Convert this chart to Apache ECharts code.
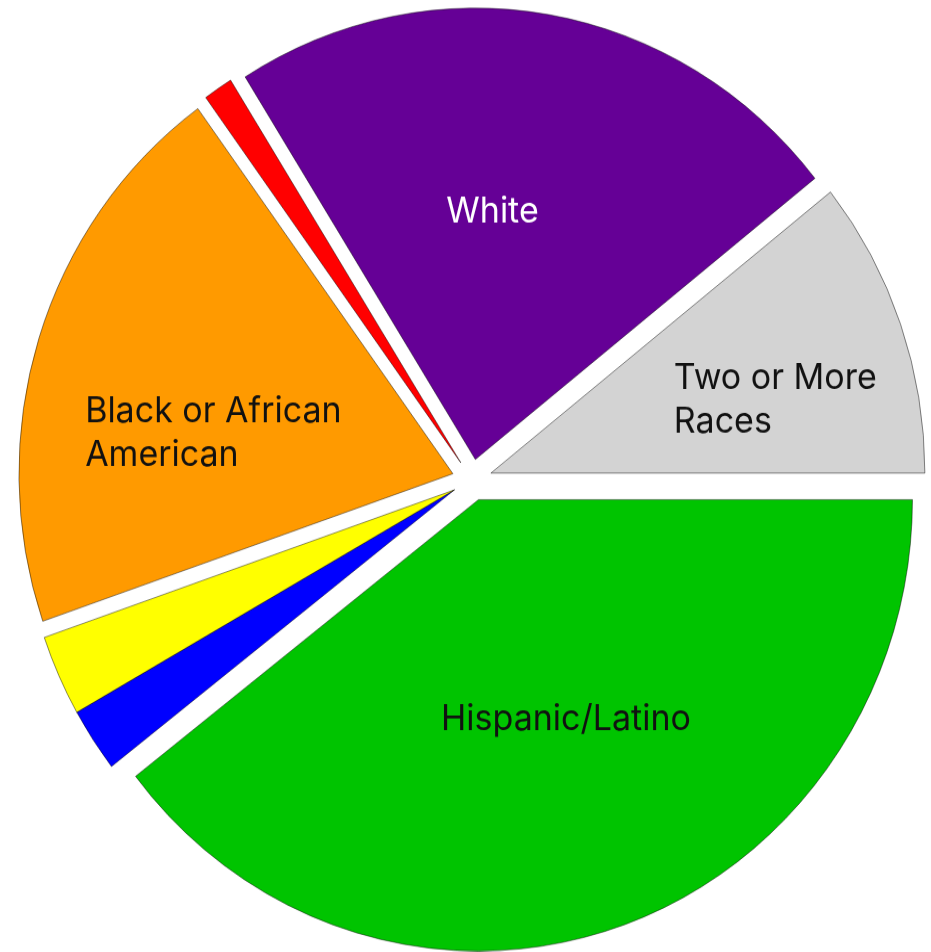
<!DOCTYPE html>
<html>
<head>
<meta charset="utf-8">
<script src="https://cdn.jsdelivr.net/npm/echarts@6/dist/echarts.min.js"></script>
<style>
  html, body { margin: 0; padding: 0; background: #ffffff; width: 931px; height: 952px; }
  /* the pie is drawn a little taller than wide */
  #chart { width: 931px; height: 915px; transform: scaleY(1.04); transform-origin: 0 0; }
</style>
</head>
<body>
<div id="chart"></div>
<script>
// Student population by race / ethnicity (share of total, %)
const categories = [
  'Hispanic/Latino',
  'Asian',
  'American Indian or Alaska Native',
  'Black or African American',
  'Native Hawaiian or Other Pacific Islander',
  'White',
  'Two or More Races'
];
const shares = [39.5, 2.3, 2.9, 20.3, 1.1, 23.2, 10.7];
const sliceColors = ['#00c400', '#0000ff', '#ffff00', '#ff9a00', '#ff0000', '#650096', '#d3d3d3'];

// Text written on the larger slices, one entry per line
const sliceText = {
  'Hispanic/Latino': ['Hispanic/Latino'],
  'Black or African American': ['Black or African', 'American'],
  'White': ['White'],
  'Two or More Races': ['Two or More', 'Races']
};
const textColor = { 'White': '#ffffff' };
// text block placement: [x, y of block centre, box width, anchor ('center' or 'left')]
const textPlacement = {
  'Hispanic/Latino': [565, 689, 260, 'center'],
  'Black or African American': [88, 417.5, 270, 'left'],
  'White': [492, 206.5, 110, 'center'],
  'Two or More Races': [671, 386, 215, 'left']
};

const FONT = 'Inter, "Open Sans", sans-serif';
const FONT_SIZE = 34;
const LINE_HEIGHT = 42;

const CENTER = [472, 461.5];
const RADIUS = 434;
const EXPLODE = 20;
// these two slices are pulled out together as a single wedge
const pairedSlices = [1, 2];

const total = shares.reduce((a, b) => a + b, 0);
const angleBefore = i => shares.slice(0, i).reduce((a, b) => a + b, 0) / total * 360;
const toRad = d => d * Math.PI / 180;
const pairMid = toRad((angleBefore(pairedSlices[0]) + angleBefore(pairedSlices[pairedSlices.length - 1] + 1)) / 2);
const pairCenter = [CENTER[0] + EXPLODE * Math.cos(pairMid), CENTER[1] + EXPLODE * Math.sin(pairMid)];

// 'inside' labels sit halfway out along the slice's middle; padding moves the text block
function labelFor(i, on) {
  const name = categories[i];
  const lines = sliceText[name];
  if (!on || !lines) return { show: false };
  const [px, py, w, anchor] = textPlacement[name];
  const mid = toRad(angleBefore(i) + shares[i] / total * 180);
  const dist = EXPLODE + RADIUS / 2;
  const ax = CENTER[0] + dist * Math.cos(mid);
  const ay = CENTER[1] + dist * Math.sin(mid);
  const cx = anchor === 'left' ? px + w / 2 : px;
  const dx = cx - ax, dy = py - ay;
  const color = textColor[name] || '#111111';
  return {
    show: true,
    color: color,
    width: w,
    overflow: 'none',
    padding: [Math.max(0, 2 * dy), Math.max(0, -2 * dx), Math.max(0, -2 * dy), Math.max(0, 2 * dx)],
    formatter: lines.map(s => '{t|' + s + '}').join('\n'),
    rich: {
      t: {
        align: anchor === 'left' ? 'left' : 'center',
        fontFamily: FONT, fontSize: FONT_SIZE, lineHeight: LINE_HEIGHT, color: color
      }
    }
  };
}

function buildData(isVisible, pullOut) {
  return categories.map((name, i) => {
    const on = isVisible(i);
    return {
      name: name,
      value: shares[i],
      selected: on && pullOut,
      itemStyle: on
        ? { color: sliceColors[i], borderColor: 'rgba(0,0,0,0.45)', borderWidth: 1 }
        : { color: 'rgba(0,0,0,0)', borderWidth: 0 },
      label: labelFor(i, on)
    };
  });
}

const baseSeries = {
  type: 'pie',
  radius: [0, RADIUS],
  startAngle: 0,
  clockwise: true,
  silent: true,
  avoidLabelOverlap: false,
  selectedOffset: EXPLODE,
  emphasis: { disabled: true },
  label: {
    position: 'inside',
    fontFamily: FONT,
    fontSize: FONT_SIZE,
    lineHeight: LINE_HEIGHT
  },
  labelLine: { show: false }
};

const chart = echarts.init(document.getElementById('chart'), null, { renderer: 'canvas' });
chart.setOption({
  animation: false,
  backgroundColor: '#ffffff',
  series: [
    Object.assign({}, baseSeries, {
      center: CENTER,
      selectedMode: 'multiple',
      data: buildData(i => pairedSlices.indexOf(i) < 0, true)
    }),
    Object.assign({}, baseSeries, {
      center: pairCenter,
      selectedMode: false,
      data: buildData(i => pairedSlices.indexOf(i) >= 0, false)
    })
  ]
});
</script>
</body>
</html>
